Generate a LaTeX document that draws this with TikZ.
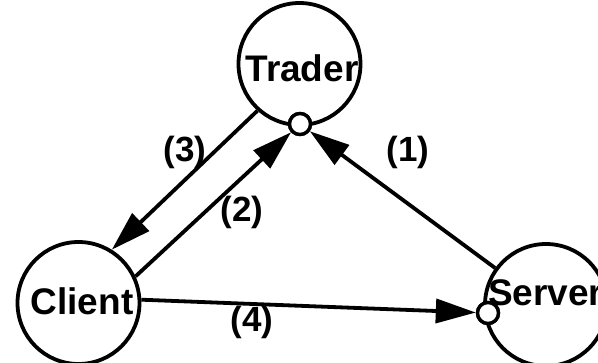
\documentclass[tikz,border=0pt]{standalone}
\usepackage{fontspec}
\setmainfont{Liberation Sans}
\usetikzlibrary{arrows.meta}
\begin{document}
\begin{tikzpicture}[x=1pt,y=-1pt,
  every node/.style={font=\fontsize{37}{42}\selectfont\bfseries},
  party/.style={circle,draw,line width=3.8pt,minimum size=122pt,inner sep=0pt},
  port/.style={circle,draw,fill=white,line width=3.4pt,minimum size=21pt,inner sep=0pt},
  msg/.style={line width=3.8pt,-{Triangle[length=40pt,width=24pt]}},
  tag/.style={inner sep=0pt,font=\fontsize{35}{40}\selectfont\bfseries}]
\useasboundingbox (0,0) rectangle (598,363);
% the three parties
\node[party] (trader) at (299.5,64) {};
\node[party] (client) at (78.5,303) {};
\node[party] (server) at (546,305) {};
\node at (302,68) {Trader};
\node at (82,301) {Client};
\node[anchor=west,inner sep=0pt] at (488,293) {Server};
% invocation ports
\node[port] (tport) at (300,124) {};
\node[port] (sport) at (488,313) {};
% messages
\draw[msg] (server.144) -- (tport);
\draw[msg] (client.25) -- (tport);
\draw[msg] (trader.228) -- (client.58);
\draw[msg] (client.3) -- (sport);
\node[port] at (tport) {};
\node[port] at (sport) {};
% message labels
\node[tag] (l1) at (408,152) {(1)};
\node[tag] (l2) at (242,212) {(2)};
\node[tag] (l3) at (185,152) {(3)};
\node[tag] (l4) at (252,322) {(4)};
\end{tikzpicture}
\end{document}
